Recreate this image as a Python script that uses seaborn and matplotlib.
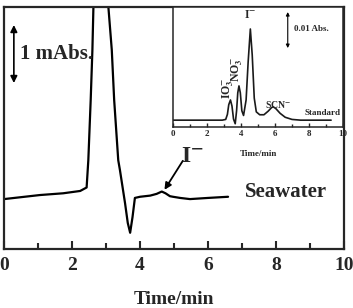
import matplotlib
matplotlib.use("Agg")
import matplotlib.pyplot as plt
import seaborn as sns
import numpy as np
from matplotlib.ticker import MultipleLocator

# ---- main chromatogram (Seawater), y in mAbs ----
sea_time = [0.0, 1.06, 1.74, 2.24, 2.43, 2.48, 2.55, 2.60, 2.63, 2.78,
            3.07, 3.17, 3.24, 3.36, 3.41, 3.56, 3.64, 3.71, 3.78, 3.85,
            4.0, 4.3, 4.49, 4.64, 4.75, 4.88, 4.97, 5.18, 5.47, 6.0, 6.59]
sea_signal = [0.86, 0.93, 0.96, 1.00, 1.06, 1.53, 2.57, 3.43, 4.17, 7.0,
              4.17, 3.43, 2.57, 1.53, 1.36, 0.79, 0.45, 0.28, 0.55, 0.88,
              0.90, 0.92, 0.95, 0.99, 0.96, 0.91, 0.90, 0.88, 0.86, 0.88, 0.90]

# ---- inset chromatogram (Standard), y in Abs ----
std_time = [0.0, 2.9, 3.1, 3.2, 3.28, 3.38, 3.47, 3.56, 3.66, 3.74, 3.81,
            3.88, 3.96, 4.05, 4.15, 4.3, 4.42, 4.55, 4.66, 4.78, 4.9,
            5.1, 5.35, 5.6, 5.8, 5.9, 6.05, 6.3, 6.6, 7.0, 7.5, 9.3]
std_signal = [0.0019, 0.0019, 0.0021, 0.0035, 0.0062, 0.0075, 0.0058, 0.0022,
              0.0009, 0.0045, 0.0095, 0.0114, 0.0095, 0.0045, 0.0032, 0.0075,
              0.018, 0.0272, 0.020, 0.008, 0.0042, 0.0034, 0.0034, 0.0044,
              0.0054, 0.0056, 0.0051, 0.0038, 0.0027, 0.0021, 0.0019, 0.0019]

x_ticks = [0, 2, 4, 6, 8, 10]

sns.set_style("ticks")
plt.rcParams['font.family'] = ['Liberation Serif', 'DejaVu Serif']
plt.rcParams['font.weight'] = 'bold'
plt.rcParams['mathtext.fontset'] = 'stix'
plt.rcParams['mathtext.default'] = 'bf'

fig = plt.figure(figsize=(3.53, 3.08), dpi=100)
ax = fig.add_axes([4/353, 1 - 249/308, 340/353, 242/308])

sns.lineplot(x=sea_time, y=sea_signal, ax=ax, sort=False, estimator=None,
             color='black', linewidth=1.6)
ax.set_xlim(0, 10)
ax.set_ylim(0, 4.17)
ax.set_yticks([])
ax.set_xticks(x_ticks)
ax.xaxis.set_minor_locator(MultipleLocator(1))
ax.tick_params(axis='x', which='major', direction='in', length=6, width=1.5,
               labelsize=14, pad=6, top=False)
ax.tick_params(axis='x', which='minor', direction='in', length=4, width=1.5, top=False)
for lab in ax.get_xticklabels():
    lab.set_fontweight('bold')
for s in ax.spines.values():
    s.set_visible(True)
    s.set_linewidth(1.6)
ax.set_xlabel('Time/min', fontsize=14, fontweight='bold', labelpad=12)

# 1 mAbs scale bar
ax.annotate('', xy=(0.29, 2.86), xytext=(0.29, 3.86),
            arrowprops=dict(arrowstyle='<|-|>', color='black', lw=1.2,
                            mutation_scale=10, shrinkA=0, shrinkB=0))
ax.text(0.47, 3.36, '1 mAbs.', fontsize=15, fontweight='bold', va='center', ha='left')
ax.text(7.1, 0.98, 'Seawater', fontsize=15, fontweight='bold', va='center', ha='left')
ax.annotate('', xy=(4.72, 1.02), xytext=(5.26, 1.52),
            arrowprops=dict(arrowstyle='-|>', color='black', lw=1.3,
                            mutation_scale=10, shrinkA=0, shrinkB=0))
ax.text(5.53, 1.59, 'I$^{-}$', fontsize=17, fontweight='bold', va='center', ha='center')

# ---- inset ----
ins = fig.add_axes([173/353, 1 - 127/308, 170/353, 120/308])
sns.lineplot(x=std_time, y=std_signal, ax=ins, sort=False, estimator=None,
             color='#1a1a1a', linewidth=1.2)
ins.set_xlim(0, 10)
ins.set_ylim(0, 0.0333)
ins.set_yticks([])
ins.set_xticks(x_ticks)
ins.xaxis.set_minor_locator(MultipleLocator(1))
ins.tick_params(axis='x', which='major', direction='in', length=3, width=1,
                labelsize=6.5, pad=2)
ins.tick_params(axis='x', which='minor', direction='in', length=2, width=1)
for lab in ins.get_xticklabels():
    lab.set_fontweight('bold')
for s in ins.spines.values():
    s.set_visible(True)
    s.set_linewidth(1.1)
ins.set_xlabel('Time/min', fontsize=6.5, fontweight='bold', labelpad=9)

ins.annotate('', xy=(6.75, 0.0219), xytext=(6.75, 0.0319),
             arrowprops=dict(arrowstyle='<|-|>', color='black', lw=0.8,
                             mutation_scale=5, shrinkA=0, shrinkB=0))
ins.text(7.1, 0.0272, '0.01 Abs.', fontsize=6.5, fontweight='bold', va='center', ha='left')
ins.text(3.22, 0.0108, 'IO$_3^{-}$', fontsize=8.5, fontweight='bold', rotation=90,
         va='center', ha='center')
ins.text(3.76, 0.0160, 'NO$_3^{-}$', fontsize=8.5, fontweight='bold', rotation=90,
         va='center', ha='center')
ins.text(4.56, 0.0310, 'I$^{-}$', fontsize=8.5, fontweight='bold', va='center', ha='center')
ins.text(6.2, 0.0062, 'SCN$^{-}$', fontsize=7, fontweight='bold', va='center', ha='center')
ins.text(8.8, 0.0040, 'Standard', fontsize=6.5, fontweight='bold', va='center', ha='center')

fig.savefig('out.png', dpi=100)
